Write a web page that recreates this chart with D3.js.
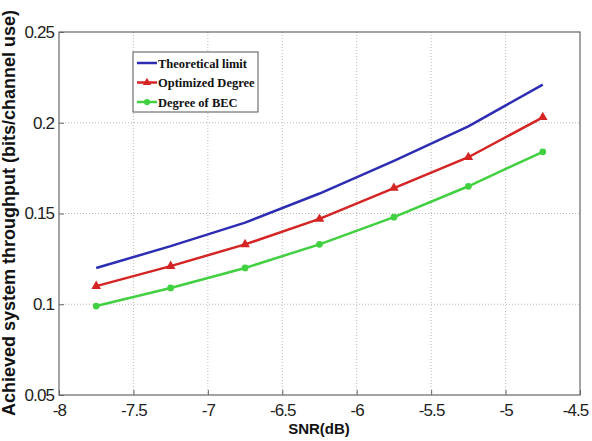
<!DOCTYPE html>
<html>
<head>
<meta charset="utf-8">
<script src="https://cdn.jsdelivr.net/npm/d3@7"></script>
<style>
  body { margin: 0; background: #fff; }
  svg { display: block; }
</style>
</head>
<body>
<svg width="592" height="441"></svg>
<script>
const snr = [-7.75, -7.25, -6.75, -6.25, -5.75, -5.25, -4.75];
const theoretical = [0.120, 0.132, 0.145, 0.161, 0.179, 0.198, 0.221];
const optimized = [0.110, 0.121, 0.133, 0.147, 0.164, 0.181, 0.203];
const bec = [0.099, 0.109, 0.120, 0.133, 0.148, 0.165, 0.184];
const xTicks = [-8, -7.5, -7, -6.5, -6, -5.5, -5, -4.5];
const yTicks = [0.05, 0.1, 0.15, 0.2, 0.25];
const names = ["Theoretical limit", "Optimized Degree", "Degree of BEC"];

const svg = d3.select("svg");
const plotLeft = 59, plotRight = 580, plotTop = 32, plotBottom = 395;

let x = d3.scaleLinear().domain([-8, -4.5]).range([plotLeft, plotRight]);
let y = d3.scaleLinear().domain([0.05, 0.25]).range([plotBottom, plotTop]);

// grid
svg.append("g").selectAll("line")
    .data(xTicks.slice(1, -1))
    .enter().append("line")
    .attr("x1", d => x(d)).attr("x2", d => x(d))
    .attr("y1", plotTop).attr("y2", plotBottom)
    .attr("stroke", "#bbb").attr("stroke-dasharray", "1,2");
svg.append("g").selectAll("line")
    .data(yTicks.slice(1, -1))
    .enter().append("line")
    .attr("y1", d => y(d)).attr("y2", d => y(d))
    .attr("x1", plotLeft).attr("x2", plotRight)
    .attr("stroke", "#bbb").attr("stroke-dasharray", "1,2");

// axes with inward ticks
const fmt = d => String(+d.toFixed(2));
const xAxis = svg.append("g")
    .attr("transform", "translate(0," + plotBottom + ")")
    .call(d3.axisBottom(x).tickValues(xTicks).tickSize(-5).tickPadding(9).tickFormat(fmt))
    .call(g => g.select(".domain").remove());
svg.append("g")
    .attr("transform", "translate(" + plotLeft + ",0)")
    .call(d3.axisLeft(y).tickValues(yTicks).tickSize(-5).tickPadding(5).tickFormat(fmt))
    .call(g => g.select(".domain").remove());
svg.selectAll(".tick text")
    .attr("font-family", "Liberation Sans, Arial, sans-serif")
    .attr("font-size", 17).attr("letter-spacing", -0.9).attr("fill", "#222");
svg.selectAll(".tick line").attr("stroke", "#666");
// keep the last x label inside the page
xAxis.selectAll(".tick text").filter(d => d === -4.5).attr("dx", -5);

svg.append("rect")
    .attr("x", plotLeft).attr("y", plotTop)
    .attr("width", plotRight - plotLeft).attr("height", plotBottom - plotTop)
    .attr("fill", "none").attr("stroke", "#666").attr("stroke-width", 1.2);

// series
const series = [
    { name: names[0], values: theoretical, color: "#2d2db4", marker: null },
    { name: names[1], values: optimized, color: "#d42424", marker: "triangle" },
    { name: names[2], values: bec, color: "#40d040", marker: "circle" }
];

let line = d3.line()
    .x((d, i) => x(snr[i]))
    .y(d => y(d));

series.forEach(function (s) {
    svg.append("path")
        .datum(s.values)
        .attr("d", line)
        .attr("fill", "none")
        .attr("stroke", s.color)
        .attr("stroke-width", 2.5);
    if (s.marker) {
        let sym = d3.symbol()
            .type(s.marker === "triangle" ? d3.symbolTriangle : d3.symbolCircle)
            .size(s.marker === "triangle" ? 40 : 36);
        svg.append("g").selectAll("path")
            .data(s.values)
            .enter().append("path")
            .attr("d", sym)
            .attr("transform", (d, i) => "translate(" + x(snr[i]) + "," + y(d) + ")")
            .attr("fill", s.color);
    }
});

// legend
const lg = svg.append("g");
lg.append("rect")
    .attr("x", 133).attr("y", 52).attr("width", 125).attr("height", 60)
    .attr("fill", "#fff").attr("stroke", "#555");
series.forEach(function (s, i) {
    const ly = 63 + i * 19.5;
    lg.append("line")
        .attr("x1", 137).attr("x2", 157).attr("y1", ly).attr("y2", ly)
        .attr("stroke", s.color).attr("stroke-width", 2.5);
    if (s.marker) {
        lg.append("path")
            .attr("d", d3.symbol().type(s.marker === "triangle" ? d3.symbolTriangle : d3.symbolCircle).size(30))
            .attr("transform", "translate(147," + ly + ")")
            .attr("fill", s.color);
    }
    lg.append("text")
        .attr("x", 158).attr("y", ly + 4.5)
        .attr("font-family", "Liberation Serif, Times New Roman, serif")
        .attr("font-weight", "bold").attr("font-size", 12.5)
        .attr("fill", "#111")
        .text(s.name);
});

// axis titles
svg.append("text")
    .attr("x", 319).attr("y", 434)
    .attr("text-anchor", "middle")
    .attr("font-family", "Liberation Sans, Arial, sans-serif")
    .attr("font-weight", "bold").attr("font-size", 15)
    .attr("fill", "#111")
    .text("SNR(dB)");
svg.append("text")
    .attr("transform", "translate(15,213) rotate(-90)")
    .attr("text-anchor", "middle")
    .attr("font-family", "Liberation Sans, Arial, sans-serif")
    .attr("font-weight", "bold").attr("font-size", 18)
    .attr("fill", "#111")
    .text("Achieved system throughput (bits/channel use)");
</script>
</body>
</html>
